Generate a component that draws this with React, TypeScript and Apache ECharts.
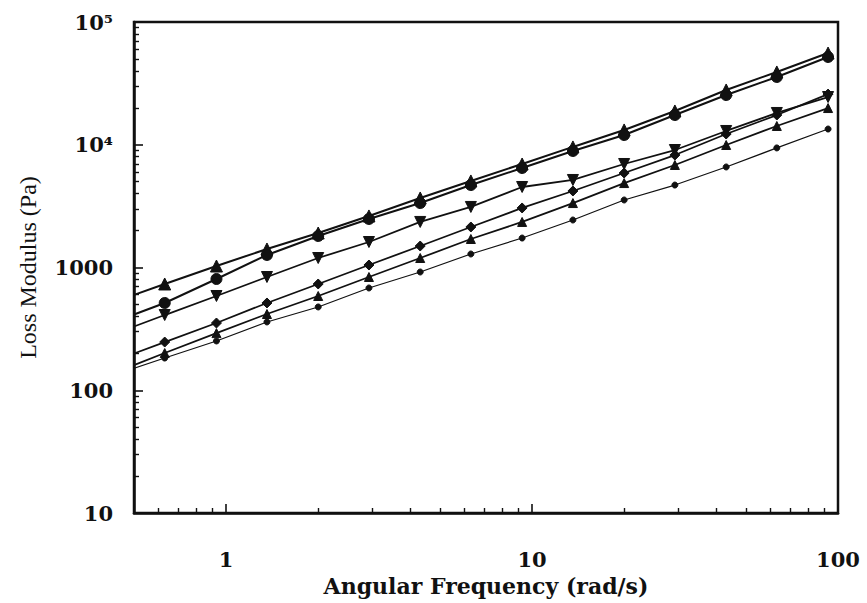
import React, { useEffect, useRef } from "react";
import * as echarts from "echarts";

// Angular frequency (rad/s); the first point lies just left of the axis and is clipped
const freq = [0.43, 0.63, 0.93, 1.36, 2.0, 2.93, 4.31, 6.31, 9.28, 13.6, 20.0, 29.3, 43.1, 63.1, 92.8];

// Loss modulus (Pa) for the six samples
const seriesA = [524, 734, 1028, 1415, 1910, 2630, 3685, 5070, 6970, 9600, 13200, 18840, 27940, 39170, 55850];
const seriesB = [360, 514, 806, 1265, 1806, 2485, 3350, 4695, 6465, 8895, 12000, 17460, 25410, 35650, 51880];
const seriesC = [287, 410, 586, 837, 1195, 1613, 2350, 3113, 4527, 5165, 6970, 9060, 12950, 18150, 24480];
const seriesD = [173, 247, 353, 514, 734, 1048, 1496, 2138, 3055, 4200, 5885, 8245, 12230, 17460, 25870];
const seriesE = [138, 201, 292, 418, 586, 837, 1195, 1707, 2350, 3350, 4875, 6840, 9955, 14220, 19910];
const seriesF = [133, 183, 252, 360, 477, 681, 919, 1288, 1738, 2437, 3548, 4695, 6590, 9420, 13430];

// tick labels shown
const xLabels = [1, 10, 100];
const yLabelValues = [10, 100, 1000, 10000, 100000];
const yLabelTexts = ["10", "100", "1000", "10⁴", "10⁵"];

const xTitle = "Angular Frequency (rad/s)";
const yTitle = "Loss Modulus (Pa)";

const findIndex = (list: number[], v: number) => list.findIndex((t) => Math.abs(v - t) / t < 1e-6);

export default function App() {
  const ref = useRef<HTMLDivElement>(null);
  useEffect(() => {
    if (!ref.current) return;
    const chart = echarts.init(ref.current, null, { renderer: "svg" });
    const ink = "#111";
    const labelFont = "DejaVu Serif";
    const hiddenSplit = { show: true, lineStyle: { color: "rgba(0,0,0,0)", width: 0 } };

    const mk = (name: string, vals: number[], symbol: string, size: number, width: number, rotate = 0): any => ({
      name,
      type: "line",
      data: freq.map((f, i) => [f, vals[i]]),
      symbol,
      symbolSize: size,
      symbolRotate: rotate,
      showAllSymbol: true,
      clip: true,
      lineStyle: { color: ink, width },
      itemStyle: { color: ink, borderColor: ink },
    });

    chart.setOption({
      animation: false,
      grid: { left: 134, right: 29, top: 22, bottom: 90, show: true, borderColor: ink, borderWidth: 2.5 },
      xAxis: {
        type: "log",
        min: 0.5,
        max: 100,
        name: xTitle,
        axisTick: { show: true, inside: true, length: 9, lineStyle: { color: ink, width: 1.6 } },
        minorTick: { show: true, splitNumber: 9, length: 5, lineStyle: { color: ink, width: 1.4 } },
        axisLine: { show: true, lineStyle: { color: ink, width: 2.5 } },
        splitLine: hiddenSplit,
        axisLabel: {
          margin: 36,
          color: ink,
          fontFamily: labelFont,
          fontWeight: "bold",
          fontSize: 21,
          formatter: (v: number) => (findIndex(xLabels, v) >= 0 ? String(Math.round(v)) : ""),
        },
        nameLocation: "middle",
        nameGap: 62,
        nameTextStyle: { fontFamily: labelFont, fontWeight: "bold", fontSize: 22, color: ink },
      },
      yAxis: {
        type: "log",
        min: 10,
        max: 100000,
        axisTick: { show: true, inside: true, length: 9, lineStyle: { color: ink, width: 1.6 } },
        minorTick: { show: true, splitNumber: 9, length: 5, lineStyle: { color: ink, width: 1.4 } },
        axisLine: { show: true, lineStyle: { color: ink, width: 2.5 } },
        splitLine: hiddenSplit,
        axisLabel: {
          margin: 21,
          color: ink,
          fontFamily: labelFont,
          fontWeight: "bold",
          fontSize: 21,
          formatter: (v: number) => {
            const i = findIndex(yLabelValues, v);
            return i >= 0 ? yLabelTexts[i] : "";
          },
        },
        name: yTitle,
        nameLocation: "middle",
        nameGap: 94,
        nameTextStyle: { fontFamily: "Liberation Serif", fontSize: 24, color: ink },
      },
      series: [
        mk("A", seriesA, "triangle", 12, 2),
        mk("B", seriesB, "circle", 11, 2),
        mk("C", seriesC, "triangle", 11, 1.8, 180),
        mk("D", seriesD, "diamond", 10, 1.8),
        mk("E", seriesE, "triangle", 9, 1.8),
        mk("F", seriesF, "circle", 6, 1.2),
      ],
    });
    return () => chart.dispose();
  }, []);
  return <div ref={ref} style={{ position: "absolute", left: 0, top: 0, width: 867, height: 603 }} />;
}
